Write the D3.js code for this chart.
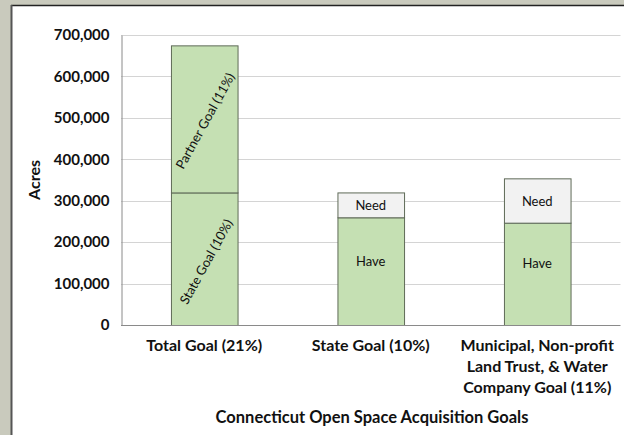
<!DOCTYPE html>
<html>
<head>
<meta charset="utf-8">
<script src="https://cdn.jsdelivr.net/npm/d3@7"></script>
<style>
  html, body { margin: 0; background: #fff; overflow: hidden; }
  svg { display: block; }
  text { font-family: Lato, "Open Sans", sans-serif; }
</style>
</head>
<body>
<svg id="chart" width="624" height="435"></svg>
<script>
// datos
const categorias = ["Total Goal (21%)", "State Goal (10%)", "Municipal, Non-profit Land Trust, & Water Company Goal (11%)"];
const etiquetasCat = [["Total Goal (21%)"], ["State Goal (10%)"], ["Municipal, Non-profit", "Land Trust, & Water", "Company Goal (11%)"]];
const baseValores = [320000, 260000, 247000];   // State Goal / Have
const topeValores = [355000, 60000, 107000];    // Partner Goal / Need
const baseEtiquetas = ["State Goal (10%)", "Have", "Have"];
const topeEtiquetas = ["Partner Goal (11%)", "Need", "Need"];
const ticksY = [0, 100000, 200000, 300000, 400000, 500000, 600000, 700000];

const svg = d3.select("#chart");

// fondo gris y borde del panel
svg.append("rect").attr("x", 0).attr("y", 0).attr("width", 624).attr("height", 5).attr("fill", "#c9cabd");
svg.append("rect").attr("x", 0).attr("y", 0).attr("width", 11).attr("height", 435).attr("fill", "#c9cabd");
svg.append("line").attr("x1", 11).attr("x2", 624).attr("y1", 5.5).attr("y2", 5.5)
    .attr("stroke", "#222").attr("stroke-width", 1.5);
svg.append("line").attr("x1", 11.5).attr("x2", 11.5).attr("y1", 5).attr("y2", 435)
    .attr("stroke", "#555").attr("stroke-width", 2);

const margin = { left: 121, right: 3.5, top: 35, bottom: 110 };
const x = d3.scaleBand().domain(categorias)
    .range([margin.left, 624 - margin.right])
    .paddingInner(0.6).paddingOuter(0.3);
const y = d3.scaleLinear().domain([0, 700000]).range([325, 35]);

// lineas de cuadricula
svg.append("g").selectAll("line").data(ticksY.filter(d => d > 0)).join("line")
    .attr("x1", margin.left).attr("x2", 624 - margin.right)
    .attr("y1", d => Math.round(y(d)) + 0.5).attr("y2", d => Math.round(y(d)) + 0.5)
    .attr("stroke", "#d4d4d4");

// eje Y
const ejeY = svg.append("g").attr("transform", `translate(${margin.left + 0.5},0)`)
    .call(d3.axisLeft(y).tickValues(ticksY).tickSize(0).tickPadding(12).tickFormat(d3.format(",")));
ejeY.select(".domain").attr("stroke", "#8a8a8a");
ejeY.selectAll("text").attr("font-size", 15).attr("font-weight", "bold").attr("fill", "#111");

// barras
const g = svg.append("g");
categorias.forEach((c, i) => {
    const x0 = x(c), w = x.bandwidth();
    const b = baseValores[i], t = topeValores[i];
    g.append("rect").attr("x", x0 + 0.5).attr("y", y(b) + 0.5)
        .attr("width", w).attr("height", y(0) - y(b))
        .attr("fill", "#c5e0b3").attr("stroke", "#5f6a58");
    g.append("rect").attr("x", x0 + 0.5).attr("y", y(b + t) + 0.5)
        .attr("width", w).attr("height", y(b) - y(b + t))
        .attr("fill", i === 0 ? "#c5e0b3" : "#f2f2f2").attr("stroke", "#5f6a58");

    const cx = x0 + w / 2;
    if (i === 0) {
        g.append("text").attr("transform", `translate(${cx + 2},${(y(0) + y(b)) / 2 + 3}) rotate(-61)`)
            .attr("text-anchor", "middle").attr("dy", "0.35em")
            .attr("font-size", 13).attr("fill", "#111").text(baseEtiquetas[i]);
        g.append("text").attr("transform", `translate(${cx + 1},${(y(b) + y(b + t)) / 2 + 2}) rotate(-61)`)
            .attr("text-anchor", "middle").attr("dy", "0.35em")
            .attr("font-size", 13).attr("fill", "#111").text(topeEtiquetas[i]);
    } else {
        g.append("text").attr("x", cx).attr("y", (y(0) + y(b)) / 2 - 10)
            .attr("text-anchor", "middle").attr("dy", "0.35em")
            .attr("font-size", 13).attr("fill", "#111").text(baseEtiquetas[i]);
        g.append("text").attr("x", cx).attr("y", (y(b) + y(b + t)) / 2 + 1)
            .attr("text-anchor", "middle").attr("dy", "0.35em")
            .attr("font-size", 13).attr("fill", "#111").text(topeEtiquetas[i]);
    }
});

// eje X (linea base)
svg.append("line").attr("x1", margin.left).attr("x2", 624 - margin.right)
    .attr("y1", Math.round(y(0)) + 0.5).attr("y2", Math.round(y(0)) + 0.5)
    .attr("stroke", "#8a8a8a");

// etiquetas de categoria
categorias.forEach((c, i) => {
    const t = svg.append("text").attr("x", x(c) + x.bandwidth() / 2).attr("y", 351)
        .attr("text-anchor", "middle").attr("font-size", 16).attr("font-weight", "bold").attr("fill", "#111");
    etiquetasCat[i].forEach((l, k) => {
        t.append("tspan").attr("x", x(c) + x.bandwidth() / 2).attr("dy", k === 0 ? 0 : 21).text(l);
    });
});

// titulos
svg.append("text").attr("transform", "translate(40,180) rotate(-90)")
    .attr("text-anchor", "middle").attr("font-size", 16).attr("font-weight", "bold").attr("fill", "#111")
    .text("Acres");
svg.append("text").attr("x", 372).attr("y", 423)
    .attr("text-anchor", "middle").attr("font-size", 16.5).attr("font-weight", "bold").attr("fill", "#111")
    .text("Connecticut Open Space Acquisition Goals");
</script>
</body>
</html>
